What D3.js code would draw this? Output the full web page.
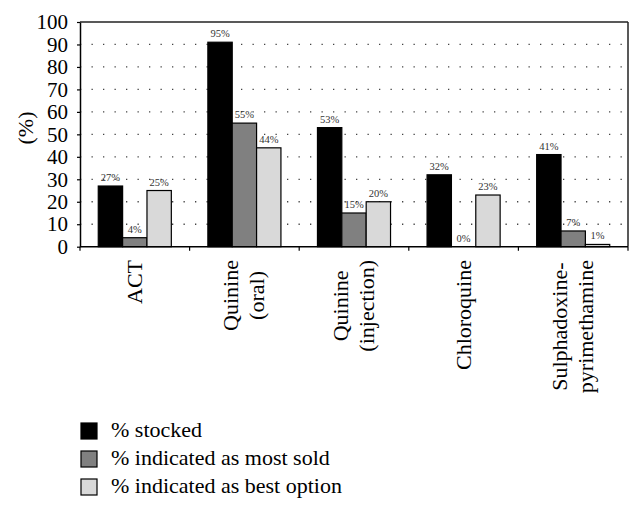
<!DOCTYPE html>
<html>
<head>
<meta charset="utf-8">
<script src="https://cdn.jsdelivr.net/npm/d3@7/dist/d3.min.js"></script>
<style>
  html, body { margin: 0; padding: 0; background: #fff; }
  svg { display: block; }
  text { font-family: "Liberation Serif", "Times New Roman", serif; }
</style>
</head>
<body>
<svg id="chart" width="643" height="511"></svg>
<script>
// ---- data ----
const categories = ["ACT", "Quinine (oral)", "Quinine (injection)", "Chloroquine", "Sulphadoxine-pyrimethamine"];
const categoryLines = [["ACT"], ["Quinine", "(oral)"], ["Quinine", "(injection)"], ["Chloroquine"], ["Sulphadoxine-", "pyrimethamine"]];
const seriesNames = ["% stocked", "% indicated as most sold", "% indicated as best option"];
// bar heights as drawn in the figure
const stocked = [27, 91, 53, 32, 41];
const mostSold = [4, 55, 15, 0, 7];
const bestOption = [25, 44, 20, 23, 1];
// printed labels
const stockedLabels = ["27%", "95%", "53%", "32%", "41%"];
const mostSoldLabels = ["4%", "55%", "15%", "0%", "7%"];
const bestOptionLabels = ["25%", "44%", "20%", "23%", "1%"];
const yTicks = [0, 10, 20, 30, 40, 50, 60, 70, 80, 90, 100];
const gridTicks = [10, 20, 30, 40, 50, 60, 70, 80, 90];

const seriesValues = [stocked, mostSold, bestOption];
const seriesLabels = [stockedLabels, mostSoldLabels, bestOptionLabels];
const colors = ["#000000", "#808080", "#d9d9d9"];

// ---- layout ----
const pLeft = 80, pRight = 628, pTop = 22, pBottom = 246.7;
const svg = d3.select("#chart");

const x0 = d3.scaleBand().domain(categories).range([pLeft, pRight]).padding(0);
const x1 = d3.scaleBand().domain(seriesNames).range([0, x0.bandwidth()]).paddingInner(0).paddingOuter(0.75);
const y = d3.scaleLinear().domain([0, 100]).range([pBottom, pTop]);

// gridlines
svg.append("g").selectAll("line").data(gridTicks).join("line")
  .attr("x1", pLeft).attr("x2", pRight)
  .attr("y1", d => y(d)).attr("y2", d => y(d))
  .attr("stroke", "#444").attr("stroke-width", 1.3)
  .attr("stroke-dasharray", "1.3,10.2");

// frame top & right
svg.append("line").attr("x1", pLeft).attr("x2", pRight).attr("y1", pTop).attr("y2", pTop)
  .attr("stroke", "#222").attr("stroke-width", 1.5);
svg.append("line").attr("x1", pRight).attr("x2", pRight).attr("y1", pTop).attr("y2", pBottom)
  .attr("stroke", "#222").attr("stroke-width", 1.5);

// bars
const rows = [];
categories.forEach((c, i) => {
  seriesNames.forEach((s, j) => {
    rows.push({ c, s, j, v: seriesValues[j][i], label: seriesLabels[j][i] });
  });
});

svg.append("g").selectAll("rect").data(rows).join("rect")
  .attr("x", d => x0(d.c) + x1(d.s))
  .attr("y", d => y(d.v))
  .attr("width", x1.bandwidth())
  .attr("height", d => y(0) - y(d.v))
  .attr("fill", d => colors[d.j])
  .attr("stroke", "#000").attr("stroke-width", 1.2);

// value labels
svg.append("g").selectAll("text").data(rows).join("text")
  .attr("x", d => x0(d.c) + x1(d.s) + x1.bandwidth() / 2)
  .attr("y", d => y(d.v) - 5)
  .attr("text-anchor", "middle")
  .attr("font-size", 10.5)
  .attr("fill", "#333")
  .text(d => d.label);

// y axis
const yAxis = d3.axisLeft(y).tickValues(yTicks).tickSize(3).tickSizeOuter(0).tickPadding(9);
const gy = svg.append("g").attr("transform", `translate(${pLeft},0)`).call(yAxis);
gy.select(".domain").attr("stroke", "#000").attr("stroke-width", 1.5);
gy.selectAll(".tick line").attr("stroke", "#000").attr("stroke-width", 1.2);
gy.selectAll(".tick text").attr("font-size", 21).attr("fill", "#000");

// x axis line and boundary ticks
svg.append("line").attr("x1", pLeft).attr("x2", pRight).attr("y1", pBottom).attr("y2", pBottom)
  .attr("stroke", "#000").attr("stroke-width", 1.5);
const boundaries = categories.map(c => x0(c)).concat([pRight]);
svg.append("g").selectAll("line").data(boundaries).join("line")
  .attr("x1", d => d).attr("x2", d => d)
  .attr("y1", pBottom).attr("y2", pBottom + 4)
  .attr("stroke", "#000").attr("stroke-width", 1.2);

// y label
svg.append("text")
  .attr("transform", `translate(33,128) rotate(-90)`)
  .attr("text-anchor", "middle")
  .attr("font-size", 22)
  .text("(%)");

// category labels (rotated)
const labelTop = 260, lineGap = 26;
categories.forEach((c, i) => {
  const cx = x0(c) + x0.bandwidth() / 2;
  const lines = categoryLines[i];
  const g = svg.append("g").attr("transform", `translate(${cx},${labelTop}) rotate(-90)`);
  const texts = lines.map((t, k) => g.append("text")
    .attr("font-size", 22)
    .attr("text-anchor", "middle")
    .attr("y", 7 + (k - (lines.length - 1) / 2) * lineGap)
    .text(t));
  const maxLen = d3.max(texts, t => t.node().getComputedTextLength());
  texts.forEach(t => t.attr("x", -maxLen / 2));
});

// legend
const legend = svg.append("g");
seriesNames.forEach((s, j) => {
  const ly = 423 + j * 28;
  legend.append("rect").attr("x", 81).attr("y", ly).attr("width", 16).attr("height", 16)
    .attr("fill", colors[j]).attr("stroke", "#000").attr("stroke-width", 1.2);
  legend.append("text").attr("x", 111).attr("y", ly + 13.5)
    .attr("font-size", 22).text(s);
});
</script>
</body>
</html>
